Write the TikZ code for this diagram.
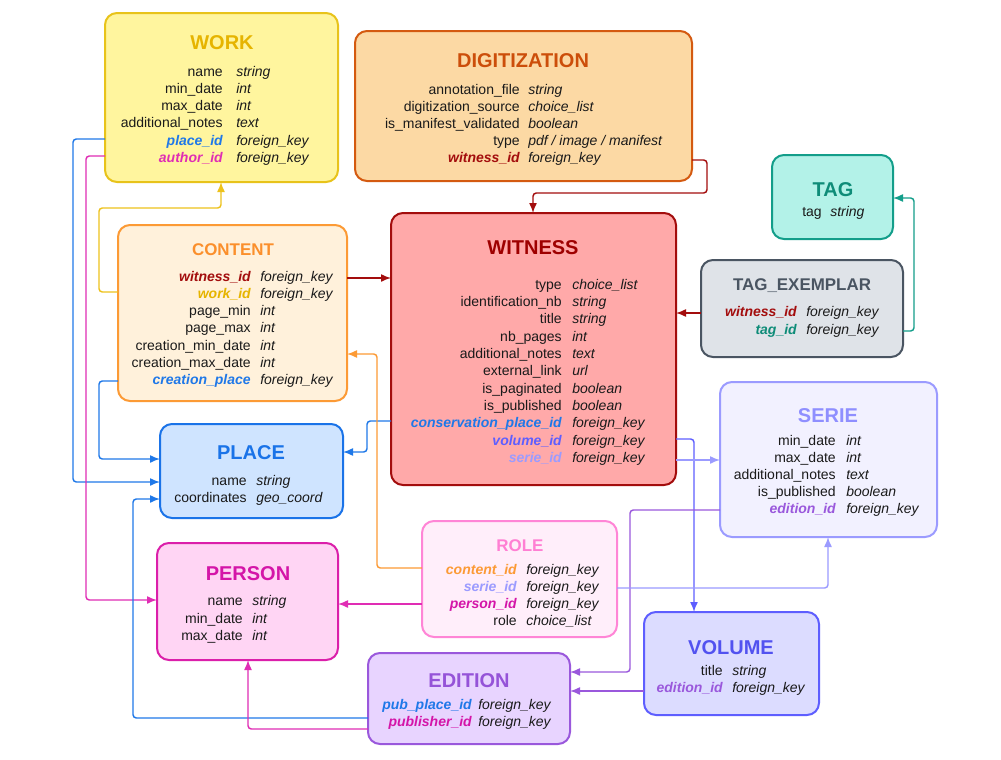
\documentclass[tikz,border=0pt]{standalone}
\usepackage{fontspec}
\setmainfont{Liberation Sans}
\usetikzlibrary{arrows.meta}

% table fills, borders and title colours
\definecolor{workF}{HTML}{FFF59E}\definecolor{workD}{HTML}{E8C31A}\definecolor{workT}{HTML}{E6B400}
\definecolor{digiF}{HTML}{FCD9A4}\definecolor{digiD}{HTML}{D45A10}\definecolor{digiT}{HTML}{CC4E0A}
\definecolor{tagF}{HTML}{B3F2E8}\definecolor{tagD}{HTML}{139E8A}\definecolor{tagT}{HTML}{0E8C78}
\definecolor{texF}{HTML}{DFE3E8}\definecolor{texD}{HTML}{4A5562}\definecolor{texT}{HTML}{4A5562}
\definecolor{contF}{HTML}{FFF1DB}\definecolor{contD}{HTML}{FC9A35}\definecolor{contT}{HTML}{FB8F2B}
\definecolor{witF}{HTML}{FFA9A9}\definecolor{witD}{HTML}{A30D0D}\definecolor{witT}{HTML}{9E0000}
\definecolor{placeF}{HTML}{CFE4FF}\definecolor{placeD}{HTML}{1A73E8}\definecolor{placeT}{HTML}{1A73E8}
\definecolor{serF}{HTML}{F2F1FF}\definecolor{serD}{HTML}{9B9BFF}\definecolor{serT}{HTML}{8F8FFF}
\definecolor{roleF}{HTML}{FFEEFA}\definecolor{roleD}{HTML}{FF85D6}\definecolor{roleT}{HTML}{FF7FD3}
\definecolor{persF}{HTML}{FFD5F4}\definecolor{persD}{HTML}{DB1FAA}\definecolor{persT}{HTML}{D415A8}
\definecolor{volF}{HTML}{DCDCFF}\definecolor{volD}{HTML}{5E5EFF}\definecolor{volT}{HTML}{5252F0}
\definecolor{edF}{HTML}{E8D4FF}\definecolor{edD}{HTML}{9A58DC}\definecolor{edT}{HTML}{9553D8}
% key and connector colours
\definecolor{cWit}{HTML}{A30D0D}
\definecolor{cWork}{HTML}{EDC21C}
\definecolor{cPlace}{HTML}{1F78E8}
\definecolor{cPers}{HTML}{E02DB4}
\definecolor{cVol}{HTML}{5E5EFF}
\definecolor{cSer}{HTML}{9B9BFF}
\definecolor{cEd}{HTML}{9A58DC}
\definecolor{cCont}{HTML}{FC9A35}
\definecolor{cTag}{HTML}{139E8A}
\definecolor{txt}{HTML}{1A1A1A}

\tikzset{
  sz/.style n args={2}{minimum width=#1*0.75pt, minimum height=#2*0.75pt},
  tbl/.style={draw, line width=1.5pt, rounded corners=9pt, inner sep=0pt, outer sep=0pt},
  ttl/.style={anchor=base, inner sep=0pt, font=\fontsize{15}{18}\selectfont\bfseries},
  sttl/.style={ttl, font=\fontsize{12.7}{15}\selectfont\bfseries},
  lbl/.style={anchor=base east, inner sep=0pt, text=txt, font=\fontsize{10.5}{13}\selectfont},
  typ/.style={anchor=base west, inner sep=0pt, text=txt, font=\fontsize{10.5}{13}\selectfont\itshape},
  keytxt/.style={text=#1, font=\fontsize{10.5}{13}\selectfont\bfseries\itshape},
  cn/.style={line width=1.1pt, rounded corners=2.5pt, -{Latex[length=7.5pt,width=6pt]}},
}

% one attribute row: name, x of label end, x of type start, baseline y, label, type
\newcommand\efield[6]{\node[lbl] (#1l) at (#2,#4) {#5}; \node[typ] (#1t) at (#3,#4) {#6};}
% one foreign key row, with the key colour as seventh argument
\newcommand\ekey[7]{\node[lbl,keytxt=#7] (#1l) at (#2,#4) {#5}; \node[typ] (#1t) at (#3,#4) {#6};}

\begin{document}
\begin{tikzpicture}[x=0.75pt, y=-0.75pt]
\path[use as bounding box, fill=white] (0,0) rectangle (1001,760);

% ---------- tables ----------
\node[tbl, draw=workD, fill=workF, sz={233}{169}] (work) at (221.5,97.5) {};
\node[ttl, text=workT] (work-t) at (222,49) {WORK};
\efield{work-1}{223}{236}{76}{name}{string}
\efield{work-2}{223}{236}{93.3}{min\_date}{int}
\efield{work-3}{223}{236}{110.6}{max\_date}{int}
\efield{work-4}{223}{236}{127.9}{additional\_notes}{text}
\ekey{work-5}{223}{236}{145.2}{place\_id}{foreign\_key}{cPlace}
\ekey{work-6}{223}{236}{162.5}{author\_id}{foreign\_key}{cPers}

\node[tbl, draw=digiD, fill=digiF, sz={337}{150}] (digi) at (523.5,106) {};
\node[ttl, text=digiT] (digi-t) at (523,67.3) {DIGITIZATION};
\efield{digi-1}{520}{528}{94}{annotation\_file}{string}
\efield{digi-2}{520}{528}{111}{digitization\_source}{choice\_list}
\efield{digi-3}{520}{528}{128}{is\_manifest\_validated}{boolean}
\efield{digi-4}{520}{528}{145}{type}{pdf / image / manifest}
\ekey{digi-5}{520}{528}{162}{witness\_id}{foreign\_key}{cWit}

\node[tbl, draw=tagD, fill=tagF, sz={121}{84}] (tag) at (832.5,197) {};
\node[ttl, text=tagT] (tag-t) at (833,196.7) {TAG};
\efield{tag-1}{822}{830}{216}{tag}{string}

\node[tbl, draw=texD, fill=texF, sz={202}{97}] (tex) at (802,308.5) {};
\node[sttl, text=texT] (tex-t) at (802,290) {TAG\_EXEMPLAR};
\ekey{tex-1}{797}{806}{316.7}{witness\_id}{foreign\_key}{cWit}
\ekey{tex-2}{797}{806}{334.3}{tag\_id}{foreign\_key}{tagT}

\node[tbl, draw=contD, fill=contF, sz={229}{176}] (cont) at (232.5,313) {};
\node[sttl, text=contT] (cont-t) at (233,255) {CONTENT};
\ekey{cont-1}{251}{260}{281}{witness\_id}{foreign\_key}{cWit}
\ekey{cont-2}{251}{260}{298.3}{work\_id}{foreign\_key}{workT}
\efield{cont-3}{251}{260}{315.6}{page\_min}{int}
\efield{cont-4}{251}{260}{332.9}{page\_max}{int}
\efield{cont-5}{251}{260}{350.2}{creation\_min\_date}{int}
\efield{cont-6}{251}{260}{367.5}{creation\_max\_date}{int}
\ekey{cont-7}{251}{260}{384.8}{creation\_place}{foreign\_key}{cPlace}

\node[tbl, draw=witD, fill=witF, sz={285}{272}] (wit) at (533.5,349) {};
\node[ttl, text=witT] (wit-t) at (533,254) {WITNESS};
\efield{wit-1}{562}{572}{289.3}{type}{choice\_list}
\efield{wit-2}{562}{572}{306.6}{identification\_nb}{string}
\efield{wit-3}{562}{572}{323.9}{title}{string}
\efield{wit-4}{562}{572}{341.2}{nb\_pages}{int}
\efield{wit-5}{562}{572}{358.5}{additional\_notes}{text}
\efield{wit-6}{562}{572}{375.8}{external\_link}{url}
\efield{wit-7}{562}{572}{393.1}{is\_paginated}{boolean}
\efield{wit-8}{562}{572}{410.4}{is\_published}{boolean}
\ekey{wit-9}{562}{572}{427.7}{conservation\_place\_id}{foreign\_key}{cPlace}
\ekey{wit-10}{562}{572}{445}{volume\_id}{foreign\_key}{cVol}
\ekey{wit-11}{562}{572}{462.3}{serie\_id}{foreign\_key}{cSer}

\node[tbl, draw=placeD, fill=placeF, sz={183}{94}] (place) at (251.5,471) {};
\node[ttl, text=placeT] (place-t) at (251,459) {PLACE};
\efield{place-1}{247}{256}{485}{name}{string}
\efield{place-2}{247}{256}{502.3}{coordinates}{geo\_coord}

\node[tbl, draw=serD, fill=serF, sz={217}{155}] (ser) at (828.5,459.5) {};
\node[ttl, text=serT] (ser-t) at (828,422.3) {SERIE};
\efield{ser-1}{836}{846}{445}{min\_date}{int}
\efield{ser-2}{836}{846}{462.2}{max\_date}{int}
\efield{ser-3}{836}{846}{479.4}{additional\_notes}{text}
\efield{ser-4}{836}{846}{496.6}{is\_published}{boolean}
\ekey{ser-5}{836}{846}{513.8}{edition\_id}{foreign\_key}{cEd}

\node[tbl, draw=roleD, fill=roleF, sz={195}{116}] (role) at (519.5,579) {};
\node[sttl, text=roleT] (role-t) at (520,551.7) {ROLE};
\ekey{role-1}{517}{526}{574}{content\_id}{foreign\_key}{cCont}
\ekey{role-2}{517}{526}{591.3}{serie\_id}{foreign\_key}{cSer}
\ekey{role-3}{517}{526}{608.6}{person\_id}{foreign\_key}{persT}
\efield{role-4}{517}{526}{625.9}{role}{choice\_list}

\node[tbl, draw=persD, fill=persF, sz={181}{117}] (pers) at (247.5,601.5) {};
\node[ttl, text=persT] (pers-t) at (248,580) {PERSON};
\efield{pers-1}{243}{252}{605.7}{name}{string}
\efield{pers-2}{243}{252}{623}{min\_date}{int}
\efield{pers-3}{243}{252}{640.3}{max\_date}{int}

\node[tbl, draw=volD, fill=volF, sz={175}{103}] (vol) at (731.5,663.5) {};
\node[ttl, text=volT] (vol-t) at (731,654) {VOLUME};
\efield{vol-1}{723}{732}{675}{title}{string}
\ekey{vol-2}{723}{732}{692.3}{edition\_id}{foreign\_key}{cEd}

\node[tbl, draw=edD, fill=edF, sz={202}{91}] (ed) at (469,698.5) {};
\node[ttl, text=edT] (ed-t) at (469,687.3) {EDITION};
\ekey{ed-1}{472}{478}{709.3}{pub\_place\_id}{foreign\_key}{cPlace}
\ekey{ed-2}{472}{478}{726}{publisher\_id}{foreign\_key}{persT}

% ---------- foreign key connectors ----------
\draw[cn, draw=cWit] (digi.east |- 0,160) -- (707,160) -- (707,193) -- (533,193) -- (wit.north -| 533,0);
\draw[cn, draw=cTag] (tex.east |- 0,331) -- (914,331) -- (914,198) -- (tag.east |- 0,198);
\draw[cn, draw=cWit] (tex.west |- 0,313) -- (wit.east |- 0,313);
\draw[cn, draw=cWit] (cont.east |- 0,278) -- (wit.west |- 0,278);
\draw[cn, draw=cWork] (cont.west |- 0,292) -- (99,292) -- (99,208) -- (221,208) -- (work.south -| 221,0);
\draw[cn, draw=cPlace] (cont.west |- 0,381) -- (99,381) -- (99,459) -- (place.west |- 0,459);
\draw[cn, draw=cPlace] (work.west |- 0,139) -- (73,139) -- (73,482) -- (place.west |- 0,482);
\draw[cn, draw=cPers] (work.west |- 0,156) -- (86,156) -- (86,600) -- (pers.west |- 0,600);
\draw[cn, draw=cPlace] (wit.west |- 0,421) -- (367,421) -- (367,452) -- (place.east |- 0,452);
\draw[cn, draw=cVol] (wit.east |- 0,439) -- (694,439) -- (vol.north -| 694,0);
\draw[cn, draw=cSer] (wit.east |- 0,460) -- (ser.west |- 0,460);
\draw[cn, draw=cEd] (ser.west |- 0,510) -- (630,510) -- (630,672) -- (ed.east |- 0,672);
\draw[cn, draw=cSer] (role.east |- 0,588) -- (828,588) -- (ser.south -| 828,0);
\draw[cn, draw=cCont] (role.west |- 0,568) -- (377,568) -- (377,354) -- (cont.east |- 0,354);
\draw[cn, draw=cPers] (role.west |- 0,604) -- (pers.east |- 0,604);
\draw[cn, draw=cEd] (vol.west |- 0,691) -- (ed.east |- 0,691);
\draw[cn, draw=cPlace] (ed.west |- 0,718) -- (133,718) -- (133,499) -- (place.west |- 0,499);
\draw[cn, draw=cPers] (ed.west |- 0,729) -- (248,729) -- (pers.south -| 248,0);
\end{tikzpicture}
\end{document}
